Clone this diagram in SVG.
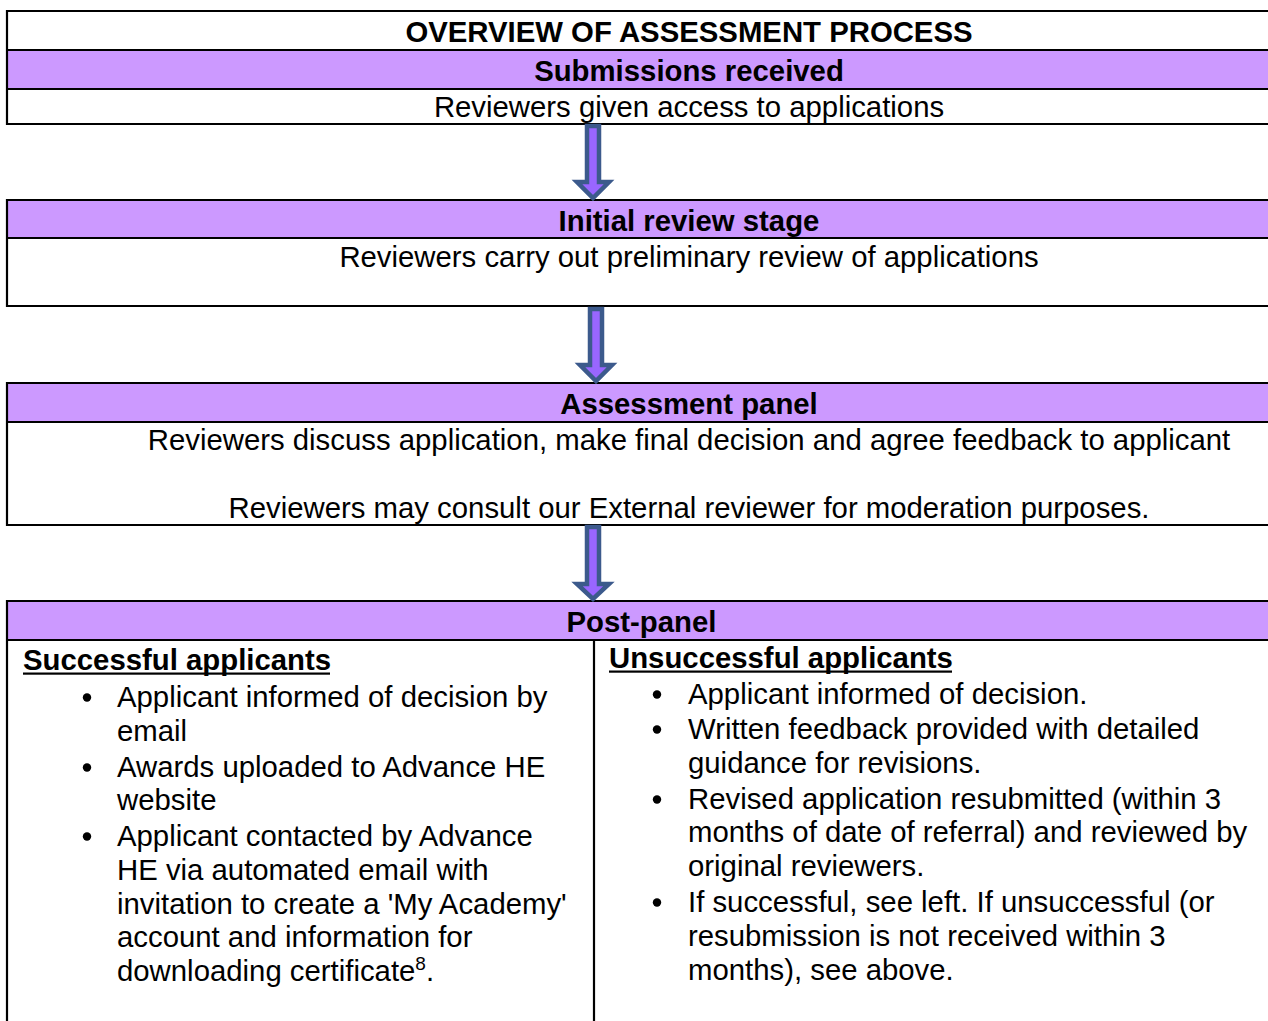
<svg xmlns="http://www.w3.org/2000/svg" width="1268" height="1021" viewBox="0 0 1268 1021">
<style>
  .band{fill:#CC99FF;}
  .ln{stroke:#000;stroke-width:2.2;fill:none;}
  text{font-family:"Liberation Sans",Arial,sans-serif;font-size:29.33px;fill:#000;}
  .b{font-weight:bold;}
  .c{text-anchor:middle;}
  .arrow{fill:#9966FF;stroke:#3C5A8C;stroke-width:4.5;stroke-linejoin:miter;}
  .dot{fill:#000;}
</style>
<rect width="1268" height="1021" fill="#fff"/>

<g id="title">
  <text class="b c" x="689" y="42">OVERVIEW OF ASSESSMENT PROCESS</text>
</g>

<g id="submissions">
  <rect class="band" x="7" y="50" width="1261" height="39"/>
  <text class="b c" x="689" y="81">Submissions received</text>
  <text class="c" x="689" y="117">Reviewers given access to applications</text>
  <path class="ln" d="M7 11H1268M7 50H1268M7 89H1268M7 124H1268M7 10V125"/>
</g>

<g id="initial-review">
  <rect class="band" x="7" y="200" width="1261" height="38"/>
  <text class="b c" x="689" y="231">Initial review stage</text>
  <text class="c" x="689" y="267">Reviewers carry out preliminary review of applications</text>
  <path class="ln" d="M7 200H1268M7 238H1268M7 306H1268M7 199V307"/>
</g>

<g id="assessment-panel">
  <rect class="band" x="7" y="383" width="1261" height="39"/>
  <text class="b c" x="689" y="414">Assessment panel</text>
  <text class="c" x="689" y="450">Reviewers discuss application, make final decision and agree feedback to applicant</text>
  <text class="c" x="689" y="518">Reviewers may consult our External reviewer for moderation purposes.</text>
  <path class="ln" d="M7 383H1268M7 422H1268M7 525H1268M7 382V526"/>
</g>

<g id="post-panel">
  <rect class="band" x="7" y="601" width="1261" height="39"/>
  <text class="b c" x="641.5" y="632">Post-panel</text>
  <path class="ln" d="M7 601H1268M7 640H1268M7 600V1021M594 640V1021"/>
  <g id="successful">
    <text class="b" x="23" y="670">Successful applicants</text>
    <rect x="23" y="672.5" width="307" height="2.2" fill="#000"/>
    <circle class="dot" cx="87" cy="697.5" r="4.2"/>
    <circle class="dot" cx="87" cy="767.5" r="4.2"/>
    <circle class="dot" cx="87" cy="836.5" r="4.2"/>
    <text x="117" y="707">Applicant informed of decision by</text>
    <text x="117" y="741">email</text>
    <text x="117" y="777">Awards uploaded to Advance HE</text>
    <text x="117" y="810">website</text>
    <text x="117" y="846">Applicant contacted by Advance</text>
    <text x="117" y="880">HE via automated email with</text>
    <text x="117" y="914">invitation to create a 'My Academy'</text>
    <text x="117" y="947">account and information for</text>
    <text x="117" y="981">downloading certificate<tspan font-size="19" dy="-11">8</tspan><tspan dy="11">.</tspan></text>
  </g>
  <g id="unsuccessful">
    <text class="b" x="609" y="668">Unsuccessful applicants</text>
    <rect x="609" y="670.5" width="343" height="2.2" fill="#000"/>
    <circle class="dot" cx="657" cy="694.5" r="4.2"/>
    <circle class="dot" cx="657" cy="729.5" r="4.2"/>
    <circle class="dot" cx="657" cy="799.5" r="4.2"/>
    <circle class="dot" cx="657" cy="902.5" r="4.2"/>
    <text x="688" y="704">Applicant informed of decision.</text>
    <text x="688" y="739">Written feedback provided with detailed</text>
    <text x="688" y="773">guidance for revisions.</text>
    <text x="688" y="809">Revised application resubmitted (within 3</text>
    <text x="688" y="842">months of date of referral) and reviewed by</text>
    <text x="688" y="876">original reviewers.</text>
    <text x="688" y="912">If successful, see left. If unsuccessful (or</text>
    <text x="688" y="946">resubmission is not received within 3</text>
    <text x="688" y="980">months), see above.</text>
  </g>
</g>

<g id="connectors">
  <polygon class="arrow" points="587,126 599,126 599,182 609,182 593,198 577,182 587,182"/>
  <polygon class="arrow" points="590,309 602,309 602,365 612,365 596,381 580,365 590,365"/>
  <polygon class="arrow" points="587,527 599,527 599,584 609,584 593,599 577,584 587,584"/>
</g>
</svg>
